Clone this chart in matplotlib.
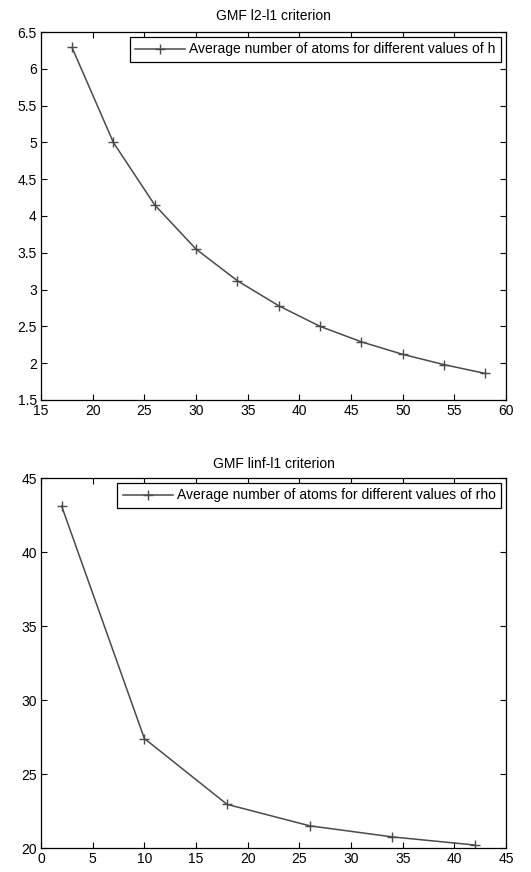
import numpy as np
import matplotlib.pyplot as plt

plt.rcParams['font.family'] = ['Liberation Sans', 'DejaVu Sans']

# GMF l2-l1
h_values = [18, 22, 26, 30, 34, 38, 42, 46, 50, 54, 58]
atoms_h = [6.29, 5.00, 4.15, 3.55, 3.12, 2.78, 2.50, 2.29, 2.12, 1.98, 1.86]

# GMF linf-l1
rho_values = [2, 10, 18, 26, 34, 42]
atoms_rho = [43.1, 27.4, 22.95, 21.5, 20.75, 20.2]

line_color = '#4a4a4a'
fs = 10

fig = plt.figure(figsize=(5.31, 8.72), dpi=100)
ax1 = fig.add_axes([0.0772, 0.5413, 0.876, 0.422])
ax2 = fig.add_axes([0.0772, 0.0275, 0.876, 0.4243])


def style_axes(ax, title, title_pad):
    ax.set_title(title, fontsize=fs, pad=title_pad)
    ax.tick_params(direction='in', top=True, right=True, labelsize=fs,
                   length=4, width=0.8)
    ax.tick_params(axis='x', pad=3)
    ax.tick_params(axis='y', pad=3)
    for s in ax.spines.values():
        s.set_linewidth(0.9)
    leg = ax.legend(loc='upper right', fontsize=fs, frameon=True, fancybox=False,
                    framealpha=1, edgecolor='black', handlelength=3.6,
                    borderpad=0.4, handletextpad=0.3, borderaxespad=0.35)
    leg.get_frame().set_linewidth(0.9)


ax1.plot(h_values, atoms_h, color=line_color, marker='+', markersize=7, lw=1.1,
         label='Average number of atoms for different values of h')
ax1.set_xlim(15, 60)
ax1.set_ylim(1.5, 6.5)
ax1.set_xticks(np.arange(15, 61, 5))
ax1.set_yticks(np.arange(1.5, 6.51, 0.5))
ax1.set_yticklabels(['1.5', '2', '2.5', '3', '3.5', '4', '4.5', '5', '5.5', '6', '6.5'])
style_axes(ax1, 'GMF l2-l1 criterion', 9)

ax2.plot(rho_values, atoms_rho, color=line_color, marker='+', markersize=7, lw=1.1,
         label='Average number of atoms for different values of rho')
ax2.set_xlim(0, 45)
ax2.set_ylim(20, 45)
ax2.set_xticks(np.arange(0, 46, 5))
ax2.set_yticks(np.arange(20, 46, 5))
style_axes(ax2, 'GMF linf-l1 criterion', 7)

fig.savefig('out.png', dpi=100)
